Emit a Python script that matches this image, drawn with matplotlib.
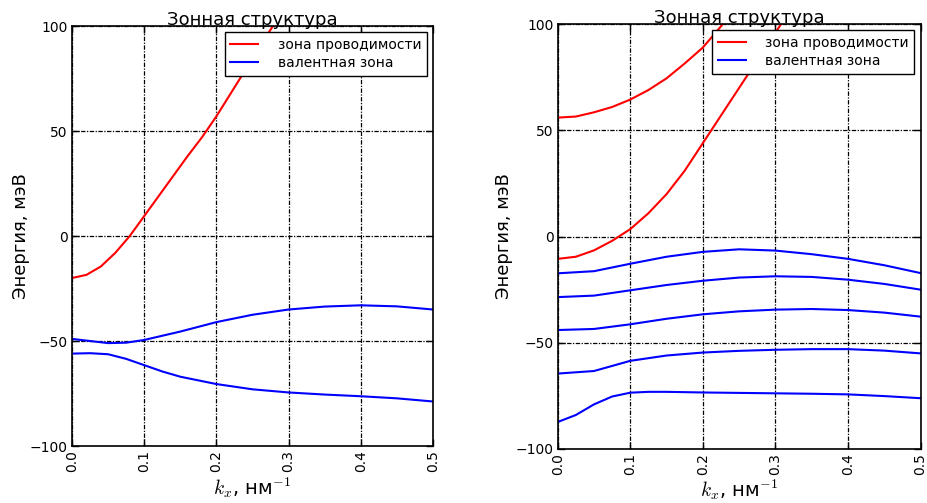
import matplotlib
matplotlib.use("Agg")
import matplotlib.pyplot as plt

plt.rcParams["mathtext.fontset"] = "cm"

# --- данные: левый график ---
k_left_cb = [0, 0.02, 0.04, 0.06, 0.08, 0.10, 0.12, 0.14, 0.16, 0.18, 0.20, 0.22, 0.24, 0.26, 0.28]
e_left_cb = [-20, -18.5, -14.5, -8, 0, 9.5, 19, 28.5, 38, 47, 57, 68, 79, 90, 101]

k_left_vb = [0, 0.025, 0.05, 0.075, 0.1, 0.125, 0.15, 0.2, 0.25, 0.3, 0.35, 0.4, 0.45, 0.5]
e_left_vb1 = [-49, -50, -51, -50.8, -49.5, -47.5, -45.5, -41, -37.5, -35, -33.6, -33, -33.5, -35]
e_left_vb2 = [-56, -55.8, -56.3, -58.5, -61.5, -64.5, -67, -70.5, -73, -74.5, -75.5, -76.3, -77.3, -78.8]

# --- данные: правый график ---
k_right_cb1 = [0, 0.025, 0.05, 0.075, 0.1, 0.125, 0.15, 0.175, 0.2, 0.225, 0.25]
e_right_cb1 = [56, 56.5, 58.5, 61, 64.5, 69, 74.5, 81.5, 89, 99, 110]
k_right_cb2 = [0, 0.025, 0.05, 0.075, 0.1, 0.125, 0.15, 0.175, 0.2, 0.225, 0.25, 0.275, 0.3, 0.325]
e_right_cb2 = [-10.5, -9.5, -6.5, -2, 3.5, 11, 20, 31, 44, 57, 70, 83, 96, 109]

k_right_vb = [0, 0.05, 0.1, 0.15, 0.2, 0.25, 0.3, 0.35, 0.4, 0.45, 0.5]
e_right_vb = [
    [-17.3, -16.3, -12.8, -9.5, -7.2, -6.0, -6.6, -8.3, -10.5, -13.5, -17.2],
    [-28.5, -27.8, -25.3, -22.8, -20.8, -19.3, -18.7, -19.0, -20.3, -22.3, -25.0],
    [-44.0, -43.5, -41.3, -38.7, -36.6, -35.2, -34.4, -34.1, -34.6, -35.8, -37.7],
    [-64.5, -63.3, -58.5, -56.0, -54.6, -53.8, -53.3, -53.0, -53.0, -53.7, -55.0],
]
k_right_vb_low = [0, 0.025, 0.05, 0.075, 0.1, 0.125, 0.15, 0.2, 0.25, 0.3, 0.35, 0.4, 0.45, 0.5]
e_right_vb_low = [-87.3, -84, -79, -75.3, -73.5, -73.1, -73.1, -73.4, -73.6, -73.8, -74, -74.3, -75.1, -76.1]

x_ticks = [0.0, 0.1, 0.2, 0.3, 0.4, 0.5]
y_ticks = [-100, -50, 0, 50, 100]


def style_axes(ax, ylabel_x):
    ax.set_xlim(0, 0.5)
    ax.set_ylim(-100, 100)
    ax.set_xticks(x_ticks)
    ax.set_yticks(y_ticks)
    ax.set_xticklabels([f"{t:.1f}" for t in x_ticks], rotation=90)
    ax.tick_params(direction="in", top=True, right=True, length=5, width=1,
                   labelsize=10, pad=3)
    ax.grid(True, color="k", linewidth=0.9, dashes=(3.5, 1.2, 1, 1.2))
    for s in ax.spines.values():
        s.set_linewidth(1.2)
    ax.set_title("Зонная структура", fontsize=13, pad=1)
    ax.set_ylabel("Энергия, мэВ", fontsize=13)
    ax.yaxis.set_label_coords(ylabel_x, 0.5)
    ax.set_xlabel(r"$k_x$, нм$^{-1}$", fontsize=14, labelpad=2)
    leg = ax.legend(loc="upper right", fontsize=10, fancybox=False, framealpha=1,
                    edgecolor="k", borderaxespad=0.45, handlelength=2.0,
                    handletextpad=1.4, labelspacing=0.3)
    leg.get_frame().set_linewidth(1.0)


fig = plt.figure(figsize=(9.28, 5.03), dpi=100)
ax1 = fig.add_axes([0.0776, 0.1133, 0.389, 0.835])
ax2 = fig.add_axes([0.601, 0.1074, 0.391, 0.8446])

ax1.plot(k_left_cb, e_left_cb, color="r", lw=1.5, label="зона проводимости")
ax1.plot(k_left_vb, e_left_vb1, color="b", lw=1.5, label="валентная зона")
ax1.plot(k_left_vb, e_left_vb2, color="b", lw=1.5)
style_axes(ax1, -0.116)

ax2.plot(k_right_cb1, e_right_cb1, color="r", lw=1.5, label="зона проводимости")
ax2.plot(k_right_cb2, e_right_cb2, color="r", lw=1.5)
for i, e in enumerate(e_right_vb):
    ax2.plot(k_right_vb, e, color="b", lw=1.5, label="валентная зона" if i == 0 else None)
ax2.plot(k_right_vb_low, e_right_vb_low, color="b", lw=1.5)
style_axes(ax2, -0.124)

fig.savefig("out.png", dpi=100)
